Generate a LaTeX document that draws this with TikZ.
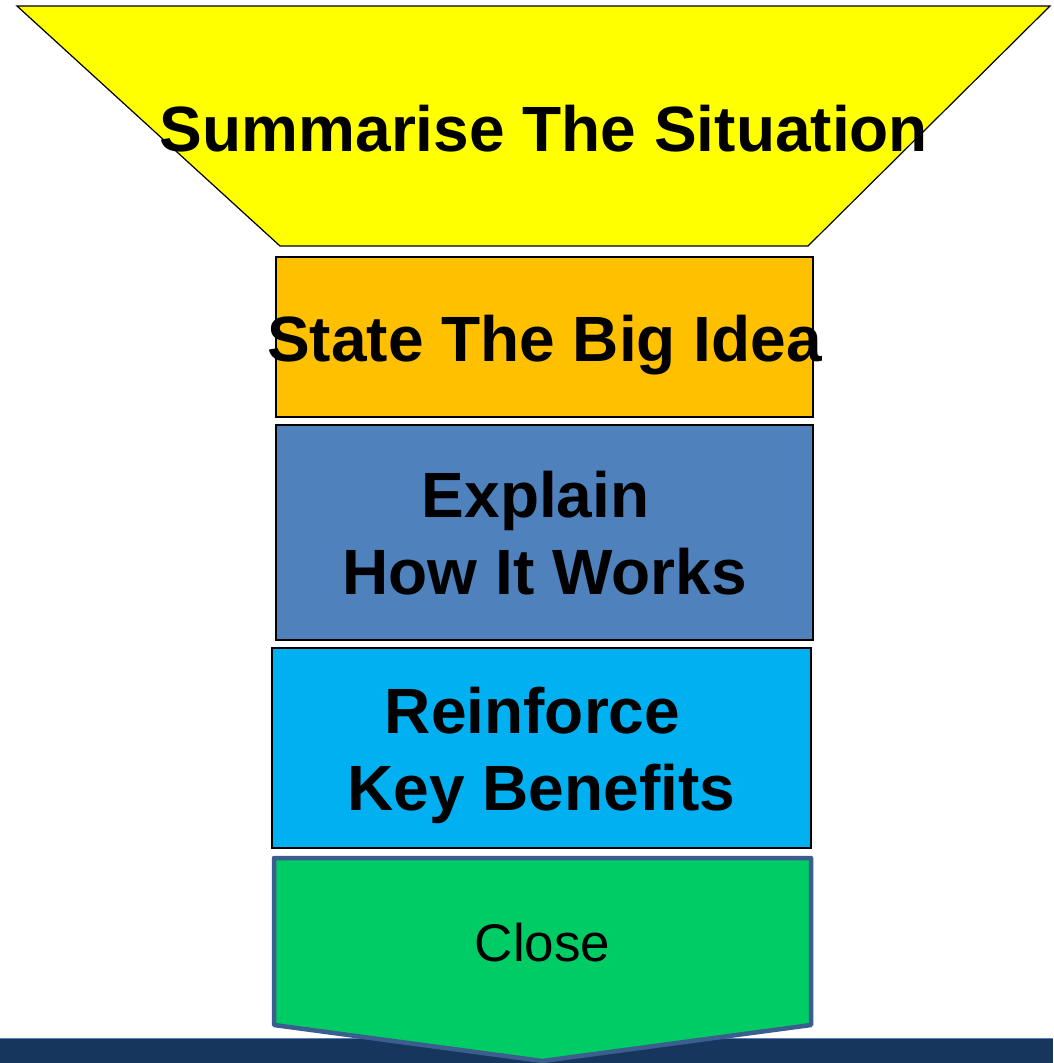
\documentclass[tikz,border=0pt]{standalone}
\usepackage{fontspec}
\setmainfont{Liberation Sans}
\usepackage{xcolor}
\usetikzlibrary{positioning,calc}

\definecolor{funnelyellow}{HTML}{FFFF00}
\definecolor{ideaorange}{HTML}{FFC000}
\definecolor{worksblue}{HTML}{4F81BD}
\definecolor{benefitcyan}{HTML}{00B0F0}
\definecolor{closegreen}{HTML}{00CC66}
\definecolor{closeedge}{HTML}{3B5E8E}
\definecolor{bandnavy}{HTML}{17365D}
\definecolor{bandedge}{HTML}{5A7FB5}

\begin{document}
\begin{tikzpicture}[x=1pt, y=-1pt,
    stagebox/.style={draw=black, line width=1.6pt, inner sep=0pt, align=center},
    stagetext/.style={font=\fontsize{64}{77}\selectfont\bfseries, align=center}
  ]
    \useasboundingbox (0,0) rectangle (1053,1063);

    % Dark band along the bottom
    \fill[bandnavy] (0,1038) rectangle (1053,1063);
    \draw[bandedge, line width=1pt] (0,1038.5) -- (1053,1038.5);

    % Funnel top
    \draw[fill=funnelyellow, line width=1.2pt] (17,6) -- (1050,6) -- (808,246) -- (280,246) -- cycle;
    \node[stagetext] (situation) at (544,129) {Summarise The Situation};

    % Stacked stages
    \node[stagebox, fill=ideaorange, minimum width=537pt, minimum height=160pt] (idea) at (544.5,337) {};
    \node[stagetext] (ideatext) at (544.5,345) {State The Big Idea};

    \node[stagebox, fill=worksblue, minimum width=537pt, minimum height=215pt] (works) at (544.5,532.5) {};
    \node[stagetext] (workstext) at (544.5,533) {Explain\hspace*{.28em}\\How It Works};

    \node[stagebox, fill=benefitcyan, minimum width=539pt, minimum height=200pt] (benefits) at (541.5,748) {};
    \node[stagetext] (benefitstext) at (541.5,755) {Reinforce\hspace*{.28em}\\Key Benefits};

    % Closing arrow
    \draw[fill=closegreen, draw=closeedge, line width=4.5pt, line join=round]
        (274,858) -- (811,858) -- (811,1025) -- (542.5,1061) -- (274,1025) -- cycle;
    \node[font=\fontsize{53}{63}\selectfont] (close) at (542.5,943) {Close};

\end{tikzpicture}
\end{document}
